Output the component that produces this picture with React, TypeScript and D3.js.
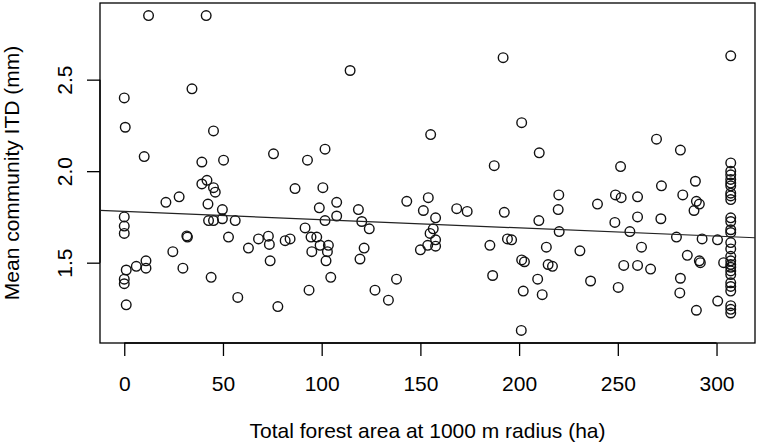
import React, { useEffect, useRef } from 'react';
import * as d3 from 'd3';

// total forest area (ha) within 1000 m radius
const forestArea = [
  12.3, 41.5, 34.3, 0, 0.5, 10.1, 39.3, 50.3, 45.2, 41.9, 39.3, 45.2, 46.1, 27.8, 21.1, 42.4,
  42.7, 45.2, 49.7, 49.7, 56.2, 0, 0, 0, 32.0, 31.7, 52.8, 24.6, 11.0, 11.0, 6.1, 1.0,
  0, 0, 29.7, 44.0, 1.0, 57.5, 62.9, 68.0, 73.0, 73.5, 73.9, 81.5, 84.0, 77.8, 75.6, 92.8,
  86.5, 91.6, 94.6, 95.0, 93.6, 97.5, 99.2, 103.4, 102.9, 102.2, 104.6, 101.7, 100.6, 98.8, 107.6, 107.6,
  101.7, 114.4, 118.6, 120.3, 124.1, 121.5, 119.4, 127.0, 133.8, 137.9, 143.1, 154.0, 151.5, 155.2, 157.7, 156.5,
  154.9, 157.7, 157.7, 153.7, 150.0, 168.4, 173.7, 185.2, 187.4, 186.6, 191.9, 192.5, 194.1, 196.2, 201.3, 201.3,
  202.7, 202.1, 201.1, 210.2, 210.0, 209.4, 211.7, 213.8, 214.7, 216.9, 220.1, 219.8, 220.3, 230.8, 236.2, 239.7,
  248.8, 251.7, 251.4, 248.5, 256.1, 253.0, 250.2, 260.0, 260.0, 262.0, 260.0, 266.6, 269.6, 272.1, 271.8, 281.7,
  282.9, 279.7, 285.2, 281.7, 281.4, 289.3, 289.8, 291.3, 288.6, 291.3, 291.8, 289.8, 292.7, 300.5, 300.6, 303.6,
  307.2, 307.2, 307.2, 307.2, 307.2, 307.2, 307.2, 307.2, 307.2, 307.2, 307.2, 307.2, 307.2, 307.2, 307.2, 307.2,
  307.2, 307.2, 307.2, 307.2, 307.2, 307.2, 307.2, 307.2, 307.2, 307.2, 307.2, 307.2,
];

// mean community ITD (mm), same order
const meanITD = [
  2.85, 2.85, 2.45, 2.40, 2.24, 2.08, 2.05, 2.06, 2.22, 1.95, 1.93, 1.91, 1.885, 1.86, 1.83, 1.82,
  1.73, 1.73, 1.79, 1.74, 1.73, 1.75, 1.70, 1.66, 1.64, 1.646, 1.64, 1.56, 1.51, 1.47, 1.48, 1.46,
  1.41, 1.385, 1.47, 1.42, 1.27, 1.31, 1.58, 1.63, 1.645, 1.60, 1.51, 1.62, 1.63, 1.26, 2.095, 2.06,
  1.905, 1.69, 1.64, 1.56, 1.35, 1.64, 1.595, 1.595, 1.56, 1.51, 1.42, 2.12, 1.91, 1.80, 1.83, 1.755,
  1.73, 2.55, 1.79, 1.725, 1.685, 1.58, 1.52, 1.35, 1.295, 1.41, 1.835, 1.855, 1.785, 2.20, 1.745, 1.685,
  1.66, 1.625, 1.59, 1.595, 1.57, 1.795, 1.78, 1.595, 2.03, 1.43, 2.62, 1.775, 1.63, 1.625, 2.265, 1.515,
  1.505, 1.345, 1.13, 2.10, 1.73, 1.41, 1.325, 1.585, 1.49, 1.48, 1.87, 1.79, 1.67, 1.565, 1.40, 1.82,
  1.87, 1.855, 2.025, 1.72, 1.67, 1.485, 1.365, 1.86, 1.75, 1.585, 1.485, 1.465, 2.175, 1.92, 1.74, 2.115,
  1.87, 1.64, 1.54, 1.415, 1.335, 1.945, 1.835, 1.82, 1.785, 1.51, 1.50, 1.24, 1.63, 1.625, 1.29, 1.50,
  2.63, 2.045, 2.0, 1.98, 1.955, 1.935, 1.92, 1.88, 1.865, 1.845, 1.745, 1.725, 1.68, 1.665, 1.61, 1.575,
  1.535, 1.51, 1.49, 1.475, 1.455, 1.435, 1.39, 1.37, 1.345, 1.265, 1.245, 1.225,
];

const xTicks = [0, 50, 100, 150, 200, 250, 300];
const yTicks = [1.5, 2.0, 2.5];

// fitted line (abline)
const fitIntercept = 1.78;
const fitSlope = -0.00045;

const xLabel = 'Total forest area at 1000 m radius (ha)';
const yLabel = 'Mean community ITD (mm)';

const W = 760;
const H = 448;

export default function App() {
  const ref = useRef<SVGSVGElement>(null);

  useEffect(() => {
    const margin = { top: 3, right: 5, bottom: 105, left: 100 };
    const width = W - margin.left - margin.right;
    const height = H - margin.top - margin.bottom;
    const font = '"Liberation Sans", Arial, sans-serif';
    const fs = 21;

    const svg = d3.select(ref.current);
    svg.selectAll('*').remove();
    const g = svg.append('g').attr('transform', `translate(${margin.left},${margin.top})`);

    // R style: data range extended by 4% on each side
    const pad = (e: number[]) => {
      const d = (e[1] - e[0]) * 0.04;
      return [e[0] - d, e[1] + d];
    };
    const x = d3.scaleLinear().domain(pad(d3.extent(forestArea) as number[])).range([0, width]);
    const y = d3.scaleLinear().domain(pad(d3.extent(meanITD) as number[])).range([height, 0]);

    // x axis
    const xa = g.append('g')
      .attr('transform', `translate(0,${height})`)
      .call(d3.axisBottom(x).tickValues(xTicks).tickFormat(d3.format('d')).tickSize(13).tickSizeOuter(0));
    xa.select('.domain').remove();
    xa.append('line')
      .attr('x1', x(xTicks[0])).attr('x2', x(xTicks[xTicks.length - 1]))
      .attr('stroke', '#000').attr('stroke-width', 1.3);
    xa.selectAll('.tick line').attr('stroke', '#000').attr('stroke-width', 1.3);
    xa.selectAll('.tick text')
      .attr('y', 48).attr('dy', 0)
      .attr('fill', '#000')
      .style('font-family', font).style('font-size', fs + 'px');

    // y axis
    const ya = g.append('g')
      .call(d3.axisLeft(y).tickValues(yTicks).tickFormat(d3.format('.1f')).tickSize(13).tickSizeOuter(0));
    ya.select('.domain').remove();
    ya.append('line')
      .attr('y1', y(yTicks[0])).attr('y2', y(yTicks[yTicks.length - 1]))
      .attr('stroke', '#000').attr('stroke-width', 1.3);
    ya.selectAll('.tick line').attr('stroke', '#000').attr('stroke-width', 1.3);
    ya.selectAll('.tick text')
      .attr('x', 0).attr('dy', 0).attr('y', 0)
      .attr('text-anchor', 'middle')
      .attr('transform', 'translate(-28.5,0) rotate(-90)')
      .attr('fill', '#000')
      .style('font-family', font).style('font-size', fs + 'px');

    // plot box
    g.append('rect')
      .attr('width', width).attr('height', height)
      .attr('fill', 'none').attr('stroke', '#000').attr('stroke-width', 1.3);

    // points
    g.append('g')
      .selectAll('circle')
      .data(forestArea.map((a, i) => [a, meanITD[i]]))
      .enter()
      .append('circle')
      .attr('cx', d => x(d[0]))
      .attr('cy', d => y(d[1]))
      .attr('r', 4.8)
      .attr('fill', 'none')
      .attr('stroke', '#111')
      .attr('stroke-width', 1.4);

    // regression line across the plot region
    const [x0, x1] = x.domain();
    g.append('line')
      .attr('x1', x(x0)).attr('y1', y(fitIntercept + fitSlope * x0))
      .attr('x2', x(x1)).attr('y2', y(fitIntercept + fitSlope * x1))
      .attr('stroke', '#222').attr('stroke-width', 1.2);

    // axis titles
    svg.append('text')
      .attr('x', margin.left + width / 2).attr('y', 438)
      .attr('text-anchor', 'middle')
      .style('font-family', font).style('font-size', fs + 'px')
      .text(xLabel);
    svg.append('text')
      .attr('transform', `translate(18.5,${margin.top + height / 2}) rotate(-90)`)
      .attr('text-anchor', 'middle')
      .style('font-family', font).style('font-size', fs + 'px')
      .text(yLabel);
  }, []);

  return (
    <svg
      ref={ref}
      width={W}
      height={H}
      style={{ position: 'absolute', left: 0, top: 0, background: '#fff' }}
    />
  );
}
